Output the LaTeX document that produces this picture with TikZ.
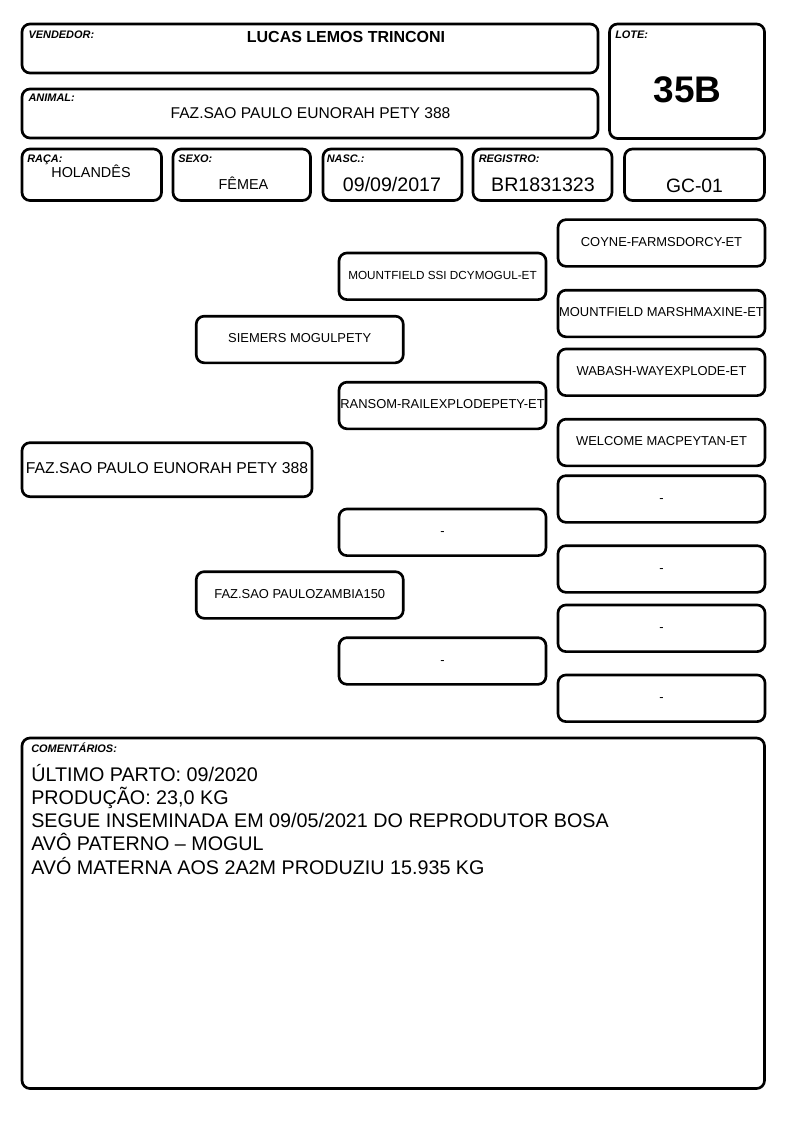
\documentclass[tikz,border=0pt]{standalone}
\usepackage{fontspec}
\setmainfont{Liberation Sans}

\begin{document}
\begin{tikzpicture}[x=0.75pt, y=-0.75pt,
		card/.style={draw, line width=2pt, rounded corners=6pt},
		lbl/.style={anchor=base west, inner sep=0pt, font=\fontsize{8.2}{10}\selectfont\bfseries\itshape},
		val/.style={anchor=base, inner sep=0pt},
		pbox/.style={draw, line width=2pt, rounded corners=6pt, inner sep=0pt,
			text height=0.72em, text depth=0.2em,
			minimum width=155.25pt, minimum height=35pt, font=\fontsize{9.7}{11}\selectfont}]
		\useasboundingbox (0,0) rectangle (794,1123);
		
		% cabecalho
		\draw[card] (22,24) rectangle (598,73);
		\draw[card] (22,89) rectangle (598,138);
		\draw[card] (609.5,24) rectangle (764.5,138.5);
		\draw[card] (22,149) rectangle (161.5,200.5);
		\draw[card] (173,149) rectangle (310.5,200.5);
		\draw[card] (323,149) rectangle (462,200.5);
		\draw[card] (473,149) rectangle (612,200.5);
		\draw[card] (624.5,149) rectangle (764.5,200.5);
		
		\node[lbl] (vendlbl) at (28.3,38.7) {VENDEDOR:};
		\node[val, font=\fontsize{12}{14}\selectfont\bfseries] (vend) at (346,43) {LUCAS LEMOS TRINCONI};
		\node[lbl] (animlbl) at (28.3,101.3) {ANIMAL:};
		\node[val, font=\fontsize{11.7}{14}\selectfont] (anim) at (310.5,118.7) {FAZ.SAO PAULO EUNORAH PETY 388};
		\node[lbl] (lotelbl) at (615,38.7) {LOTE:};
		\node[val, font=\fontsize{27.75}{30}\selectfont\bfseries] (lote) at (687.5,103) {35B};
		
		\node[lbl] (racalbl) at (27,162.3) {RAÇA:};
		\node[val, font=\fontsize{10.8}{13}\selectfont] (raca) at (91,178) {HOLANDÊS};
		\node[lbl] (sexolbl) at (178,162.3) {SEXO:};
		\node[val, font=\fontsize{10.8}{13}\selectfont] (sexo) at (243.5,189.7) {FÊMEA};
		\node[lbl] (nasclbl) at (326.5,162.3) {NASC.:};
		\node[val, font=\fontsize{14.7}{17}\selectfont] (nasc) at (392,191.3) {09/09/2017};
		\node[lbl] (reglbl) at (478.5,162.3) {REGISTRO:};
		\node[val, font=\fontsize{14.7}{17}\selectfont] (reg) at (543,191.3) {BR1831323};
		\node[val, font=\fontsize{14.5}{17}\selectfont] (gc) at (694.5,193) {GC-01};
		
		% genealogia
		\node[pbox, minimum width=217.5pt, minimum height=40.5pt, font=\fontsize{11.8}{14}\selectfont] (animal) at (167,469.7) {FAZ.SAO PAULO EUNORAH PETY 388};
		
		\node[pbox] (pai) at (299.75,339.5) {SIEMERS MOGULPETY};
		\node[pbox] (mae) at (299.75,595) {FAZ.SAO PAULOZAMBIA150};
		
		\node[pbox, font=\fontsize{8.8}{10}\selectfont] (avo1) at (442.5,276.3) {MOUNTFIELD SSI DCYMOGUL-ET};
		\node[pbox] (avo2) at (442.5,405.5) {RANSOM-RAILEXPLODEPETY-ET};
		\node[pbox] (avo3) at (442.5,532.3) {-};
		\node[pbox] (avo4) at (442.5,661) {-};
		
		\node[pbox] (bis1) at (661.5,243) {COYNE-FARMSDORCY-ET};
		\node[pbox] (bis2) at (661.5,313.5) {MOUNTFIELD MARSHMAXINE-ET};
		\node[pbox] (bis3) at (661.5,372.3) {WABASH-WAYEXPLODE-ET};
		\node[pbox] (bis4) at (661.5,442.5) {WELCOME MACPEYTAN-ET};
		\node[pbox] (bis5) at (661.5,499) {-};
		\node[pbox] (bis6) at (661.5,569) {-};
		\node[pbox] (bis7) at (661.5,628.3) {-};
		\node[pbox] (bis8) at (661.5,698.3) {-};
		
		% comentarios
		\draw[card] (22,738) rectangle (764.5,1088.5);
		\node[lbl] (comlbl) at (31,752.3) {COMENTÁRIOS:};
		\node[anchor=base west, inner sep=0pt, font=\fontsize{14.8}{17.5}\selectfont] (c1) at (31,781) {ÚLTIMO PARTO: 09/2020};
		\node[anchor=base west, inner sep=0pt, font=\fontsize{14.8}{17.5}\selectfont] (c2) at (31,804.3) {PRODUÇÃO: 23,0 KG};
		\node[anchor=base west, inner sep=0pt, font=\fontsize{14.8}{17.5}\selectfont] (c3) at (31,827.6) {SEGUE INSEMINADA EM 09/05/2021 DO REPRODUTOR BOSA};
		\node[anchor=base west, inner sep=0pt, font=\fontsize{14.8}{17.5}\selectfont] (c4) at (31,850.9) {AVÔ PATERNO – MOGUL};
		\node[anchor=base west, inner sep=0pt, font=\fontsize{14.8}{17.5}\selectfont] (c5) at (31,874.2) {AVÓ MATERNA AOS 2A2M PRODUZIU 15.935 KG};
		
	\end{tikzpicture}
\end{document}
